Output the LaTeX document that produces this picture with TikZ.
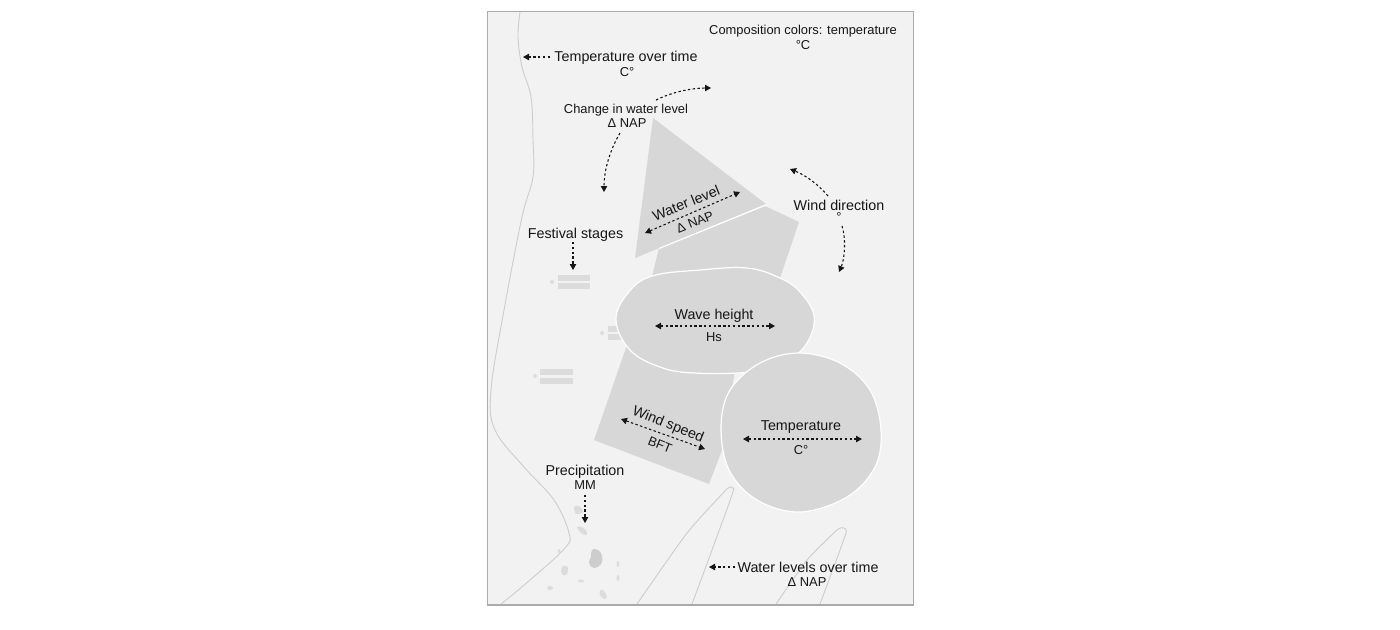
\documentclass[tikz,border=0pt]{standalone}
\usepackage{fontspec}
\setmainfont{Liberation Sans}
\usetikzlibrary{arrows.meta}
\definecolor{paper}{HTML}{F2F2F2}
\definecolor{framec}{HTML}{ABABAB}
\definecolor{shapec}{HTML}{D7D7D7}
\definecolor{linec}{HTML}{CDCDCD}
\definecolor{stagec}{HTML}{DCDCDC}
\definecolor{inkc}{HTML}{161616}
\tikzset{
  x=0.5pt,y=-0.5pt,
  big/.style={font=\fontsize{7.15}{8}\selectfont,text=inkc,inner sep=0pt},
  small/.style={font=\fontsize{6.45}{8}\selectfont,text=inkc,inner sep=0pt},
  shapefill/.style={fill=shapec},
  edged/.style={fill=shapec,draw=white,line width=0.6pt},
  contour/.style={draw=linec,line width=0.45pt},
  stagebar/.style={fill=stagec},
  arr/.style={draw=inkc,line width=0.55pt,dash pattern=on 1.2pt off 1.2pt,-{Triangle[length=3pt,width=3.2pt]}},
  darr/.style={draw=inkc,line width=0.55pt,dash pattern=on 1.2pt off 1.2pt,{Triangle[length=3pt,width=3.2pt]}-{Triangle[length=3pt,width=3.2pt]}},
}
\begin{document}
\begin{tikzpicture}
\useasboundingbox (0,0) rectangle (1400,629);
\fill[white] (0,0) rectangle (1400,629);
\draw[fill=paper,draw=framec,line width=0.55pt] (487.5,11.5) rectangle (913.5,605);
% contours
\draw[contour] plot[smooth,tension=0.6] coordinates {(520,12) (518,37) (522,67) (531,97) (533,140) (533,177) (522,217) (504,310) (491,390) (495,430) (524,467) (554,500) (569,533) (565,548) (530,580) (501,604)};
\draw[contour] plot[smooth,tension=0.35] coordinates {(637,604) (687,533) (727,489) (732,488) (733,492) (712,550) (692,604)};
\draw[contour] plot[smooth,tension=0.35] coordinates {(776,604) (807,560) (837,530) (844,528) (846,533) (833,569) (820,604)};
% stages
\fill[stagebar] (558,274.5) rectangle (590,280.5);
\fill[stagebar] (558,283) rectangle (590,289);
\fill[stagebar] (552,282) circle (2);
\fill[stagebar] (608,326) rectangle (620,332);
\fill[stagebar] (608,334) rectangle (622,340);
\fill[stagebar] (602,333) circle (2);
\fill[stagebar] (540,369) rectangle (573,375);
\fill[stagebar] (540,378) rectangle (573,384);
\fill[stagebar] (535,376) circle (2);
% precipitation blots
\fill[stagec] plot[smooth cycle] coordinates {(574,507) (579,506) (583,512) (576,514)};
\fill[stagec] plot[smooth cycle] coordinates {(577,527) (582,527) (587,532) (586,535) (581,533)};
\fill[linec] plot[smooth cycle,tension=0.8] coordinates {(592,550) (598,550) (602,556) (601,564) (594,568) (589,563) (591,557)};
\fill[stagec] plot[smooth cycle] coordinates {(563,566) (568,567) (567,574) (563,575) (561,571)};
\fill[stagec] plot[smooth cycle] coordinates {(600,590) (604,591) (607,597) (604,599) (600,595)};
\fill[stagec] (581,581) ellipse (3 and 1.5);
\fill[stagec] (550,588) ellipse (3 and 2);
\fill[stagec] (618,564) ellipse (1.5 and 3);
\fill[stagec] (618,578) ellipse (1.5 and 3);
\fill[stagec] (559,551) ellipse (1.5 and 2);
% main shapes
\fill[shapefill] (765,206) -- (799,222) -- (780,278) -- (652,276) -- (659,248) -- cycle;
\fill[shapefill] (653,118) -- (766,204) -- (635,258) -- cycle;
\draw[white,line width=0.6pt] (659,248.5) -- (767,204.5);
\fill[shapefill] (627,345) -- (594,440) -- (709,484) -- (722,450) -- (735,370) -- cycle;
\draw[edged] plot[smooth cycle,tension=0.65] coordinates {(652,276) (700,270) (747,268) (780,278) (800,292) (814,316) (807,343) (785,362) (750,372) (694,373) (660,367) (630,350) (616,320) (628,293)};
\draw[edged] plot[smooth cycle,tension=0.6] coordinates {(799,353) (840,363) (870,390) (881,430) (875,467) (847,497) (800,512) (757,500) (729,470) (721,427) (730,390) (760,363)};
% texts
\node[small] (comp) at (803,31.5) {Composition colors: temperature};
\node[small] (compu) at (803,45.5) {°C};
\node[big] (tot) at (626,58) {Temperature over time};
\node[small] (totu) at (627,72.5) {C°};
\node[small] (cwl) at (626,110) {Change in water level};
\node[small] (cwlu) at (627,123.5) {Δ NAP};
\node[big] (wd) at (839,205.5) {Wind direction};
\node[small] (wdu) at (839,217) {°};
\node[big] (fs) at (575.5,235) {Festival stages};
\node[big,rotate=22] (wl) at (686,203) {Water level};
\node[small,rotate=22] (wlu) at (695,222) {Δ NAP};
\node[big] (wh) at (714,316) {Wave height};
\node[small] (whu) at (714,337) {Hs};
\node[big,rotate=-22] (ws) at (668,425) {Wind speed};
\node[small,rotate=-22] (wsu) at (660,445) {BFT};
\node[big] (te) at (801,427.5) {Temperature};
\node[small] (teu) at (801,450) {C°};
\node[big] (pr) at (585,472) {Precipitation};
\node[small] (pru) at (585,485.5) {MM};
\node[big] (wlt) at (808,567.5) {Water levels over time};
\node[small] (wltu) at (807,582.5) {Δ NAP};
% arrow ends
\coordinate (a1s) at (550,57); \coordinate (a1e) at (523,57);
\coordinate (a2s) at (656,100); \coordinate (a2e) at (711,88);
\coordinate (a3s) at (620,133); \coordinate (a3e) at (604,192);
\coordinate (a4s) at (645,233); \coordinate (a4e) at (740,192);
\coordinate (a5s) at (828,196); \coordinate (a5e) at (790,169);
\coordinate (a6s) at (842,226); \coordinate (a6e) at (839,272);
\coordinate (a7s) at (573,242); \coordinate (a7e) at (573,270);
\coordinate (a8s) at (655,326); \coordinate (a8e) at (775,326);
\coordinate (a9s) at (621,419); \coordinate (a9e) at (705,449);
\coordinate (a10s) at (743,439); \coordinate (a10e) at (862,439);
\coordinate (a11s) at (585,495); \coordinate (a11e) at (585,523);
\coordinate (a12s) at (735,567); \coordinate (a12e) at (709,567);
\draw[arr] (a1s) -- (a1e);
\draw[arr] (a2s) .. controls (672,92) and (692,88) .. (a2e);
\draw[arr] (a3s) .. controls (610,150) and (604,170) .. (a3e);
\draw[darr] (a4s) -- (a4e);
\draw[arr] (a5s) .. controls (818,184) and (805,175) .. (a5e);
\draw[arr] (a6s) .. controls (846,238) and (845,258) .. (a6e);
\draw[arr] (a7s) -- (a7e);
\draw[darr] (a8s) -- (a8e);
\draw[darr] (a9s) -- (a9e);
\draw[darr] (a10s) -- (a10e);
\draw[arr] (a11s) -- (a11e);
\draw[arr] (a12s) -- (a12e);
\end{tikzpicture}
\end{document}
